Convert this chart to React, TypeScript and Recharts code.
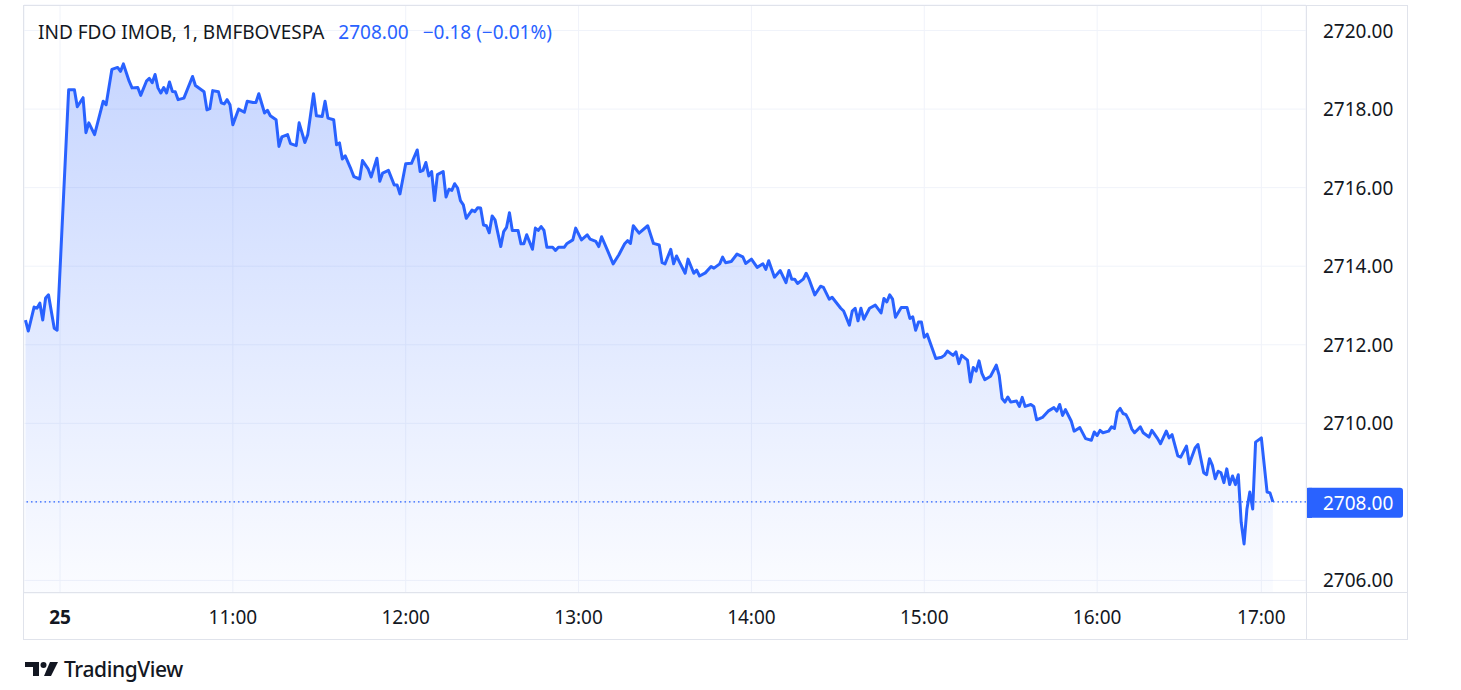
import React from "react";
import {
  Area,
  CartesianGrid,
  ComposedChart,
  ReferenceLine,
  XAxis,
  YAxis,
} from "recharts";

// 1-minute closes (one line per hour)
const times = [
  "09:48", "09:49", "09:51", "09:52", "09:53", "09:54", "09:55", "09:56", "09:58", "09:59",
  "10:03", "10:05", "10:06", "10:08", "10:09", "10:10", "10:12", "10:15", "10:16", "10:18", "10:20", "10:21", "10:22", "10:24", "10:25", "10:27", "10:28", "10:30", "10:31", "10:32", "10:33", "10:34", "10:35", "10:36", "10:37", "10:38", "10:39", "10:40", "10:41", "10:43", "10:46", "10:47", "10:50", "10:51", "10:52", "10:53", "10:55", "10:56", "10:57", "10:58", "10:59",
  "11:00", "11:02", "11:04", "11:05", "11:07", "11:08", "11:09", "11:11", "11:12", "11:13", "11:15", "11:16", "11:17", "11:19", "11:20", "11:22", "11:23", "11:25", "11:26", "11:28", "11:29", "11:31", "11:32", "11:33", "11:35", "11:36", "11:37", "11:38", "11:39", "11:41", "11:42", "11:44", "11:45", "11:47", "11:48", "11:50", "11:51", "11:52", "11:54", "11:56", "11:57", "11:58",
  "12:00", "12:02", "12:04", "12:05", "12:06", "12:07", "12:08", "12:09", "12:10", "12:11", "12:13", "12:14", "12:15", "12:16", "12:17", "12:18", "12:19", "12:20", "12:21", "12:23", "12:24", "12:25", "12:26", "12:27", "12:28", "12:29", "12:30", "12:31", "12:33", "12:34", "12:35", "12:36", "12:37", "12:39", "12:40", "12:41", "12:42", "12:44", "12:45", "12:46", "12:47", "12:48", "12:49", "12:51", "12:52", "12:53", "12:55", "12:56", "12:58", "12:59",
  "13:01", "13:03", "13:04", "13:06", "13:07", "13:08", "13:10", "13:12", "13:14", "13:16", "13:17", "13:18", "13:19", "13:21", "13:24", "13:26", "13:28", "13:29", "13:30", "13:32", "13:33", "13:34", "13:35", "13:37", "13:38", "13:40", "13:41", "13:42", "13:44", "13:46", "13:47", "13:49", "13:50", "13:51", "13:53", "13:55", "13:57", "13:58",
  "14:00", "14:02", "14:04", "14:05", "14:06", "14:08", "14:10", "14:12", "14:13", "14:14", "14:15", "14:16", "14:18", "14:19", "14:20", "14:22", "14:24", "14:25", "14:27", "14:28", "14:31", "14:32", "14:34", "14:35", "14:36", "14:37", "14:38", "14:39", "14:41", "14:43", "14:45", "14:46", "14:47", "14:48", "14:49", "14:50", "14:52", "14:54", "14:55", "14:56", "14:57", "14:58", "14:59",
  "15:00", "15:01", "15:04", "15:06", "15:07", "15:08", "15:10", "15:11", "15:12", "15:13", "15:15", "15:16", "15:17", "15:18", "15:19", "15:20", "15:21", "15:23", "15:25", "15:26", "15:27", "15:28", "15:29", "15:30", "15:32", "15:33", "15:34", "15:35", "15:37", "15:38", "15:39", "15:41", "15:43", "15:45", "15:46", "15:47", "15:48", "15:49", "15:51", "15:52", "15:54", "15:56", "15:58", "15:59",
  "16:00", "16:01", "16:02", "16:04", "16:05", "16:06", "16:07", "16:08", "16:09", "16:10", "16:11", "16:12", "16:13", "16:15", "16:16", "16:18", "16:19", "16:21", "16:22", "16:24", "16:25", "16:26", "16:28", "16:29", "16:31", "16:32", "16:34", "16:35", "16:37", "16:38", "16:39", "16:40", "16:41", "16:42", "16:43", "16:44", "16:45", "16:46", "16:47", "16:48", "16:49", "16:50", "16:51", "16:52", "16:53", "16:54", "16:55",
  "17:00", "17:02", "17:03", "17:04",
];

const prices = [
  2712.63, 2712.35, 2712.96, 2712.93, 2713.06, 2712.63, 2713.19, 2713.27, 2712.42, 2712.37,
  2718.49, 2718.49, 2718.06, 2718.29, 2717.4, 2717.65, 2717.35, 2718.2, 2718.11, 2719.01, 2719.06, 2718.96, 2719.15, 2718.71, 2718.54, 2718.55, 2718.35, 2718.71, 2718.78, 2718.67, 2718.88, 2718.54, 2718.41, 2718.55, 2718.41, 2718.69, 2718.45, 2718.44, 2718.24, 2718.28, 2718.83, 2718.6, 2718.44, 2717.98, 2718.01, 2718.47, 2718.44, 2718.16, 2718.13, 2718.24, 2718.11,
  2717.6, 2718.0, 2717.92, 2718.2, 2718.17, 2718.17, 2718.39, 2717.9, 2717.97, 2717.83, 2717.73, 2717.05, 2717.29, 2717.35, 2717.12, 2717.07, 2717.65, 2717.15, 2717.35, 2718.39, 2717.83, 2717.81, 2718.2, 2717.77, 2717.73, 2717.09, 2717.14, 2716.73, 2716.81, 2716.47, 2716.28, 2716.22, 2716.69, 2716.47, 2716.27, 2716.75, 2716.16, 2716.37, 2716.44, 2716.07, 2716.07, 2715.84,
  2716.61, 2716.62, 2716.96, 2716.41, 2716.44, 2716.64, 2716.3, 2716.41, 2715.67, 2716.33, 2716.41, 2715.76, 2715.96, 2715.93, 2716.1, 2715.99, 2715.67, 2715.56, 2715.22, 2715.43, 2715.39, 2715.49, 2715.48, 2715.05, 2715.03, 2714.85, 2715.28, 2715.18, 2714.5, 2714.88, 2714.99, 2715.36, 2714.91, 2714.91, 2714.57, 2714.57, 2714.8, 2714.43, 2714.97, 2714.91, 2715.01, 2714.91, 2714.48, 2714.48, 2714.4, 2714.48, 2714.48, 2714.58, 2714.67, 2714.97,
  2714.67, 2714.8, 2714.69, 2714.63, 2714.5, 2714.75, 2714.41, 2714.06, 2714.29, 2714.57, 2714.65, 2714.58, 2715.03, 2714.84, 2715.03, 2714.58, 2714.54, 2714.09, 2714.06, 2714.43, 2714.06, 2714.26, 2714.11, 2713.82, 2714.18, 2713.82, 2713.9, 2713.75, 2713.83, 2713.99, 2713.95, 2714.06, 2714.23, 2714.09, 2714.12, 2714.31, 2714.24, 2714.07,
  2714.18, 2713.97, 2714.06, 2713.92, 2714.14, 2713.72, 2713.89, 2713.58, 2713.89, 2713.67, 2713.67, 2713.56, 2713.67, 2713.82, 2713.67, 2713.27, 2713.49, 2713.46, 2713.16, 2713.21, 2712.93, 2712.86, 2712.5, 2712.86, 2712.93, 2712.61, 2712.93, 2712.65, 2712.93, 2713.01, 2712.81, 2713.18, 2713.09, 2713.27, 2713.16, 2712.7, 2712.95, 2712.95, 2712.67, 2712.71, 2712.37, 2712.58, 2712.58,
  2712.19, 2712.27, 2711.65, 2711.68, 2711.73, 2711.84, 2711.73, 2711.82, 2711.52, 2711.73, 2711.61, 2711.05, 2711.42, 2711.33, 2711.59, 2711.27, 2711.11, 2711.2, 2711.48, 2711.22, 2710.63, 2710.54, 2710.67, 2710.54, 2710.57, 2710.43, 2710.66, 2710.43, 2710.48, 2710.43, 2710.09, 2710.15, 2710.31, 2710.4, 2710.31, 2710.48, 2710.2, 2710.35, 2710.06, 2709.8, 2709.89, 2709.61, 2709.57, 2709.78,
  2709.69, 2709.82, 2709.76, 2709.8, 2709.91, 2709.87, 2710.29, 2710.38, 2710.25, 2710.22, 2710.08, 2709.86, 2709.76, 2709.91, 2709.76, 2709.65, 2709.82, 2709.61, 2709.48, 2709.8, 2709.63, 2709.71, 2709.17, 2709.14, 2709.42, 2708.97, 2709.37, 2709.46, 2708.74, 2708.69, 2709.1, 2708.93, 2708.59, 2708.78, 2708.74, 2708.49, 2708.84, 2708.44, 2708.66, 2708.44, 2708.69, 2707.48, 2706.93, 2707.82, 2708.25, 2707.82, 2709.52,
  2709.63, 2708.25, 2708.23, 2708.0,
];

const priceTicks = [2706, 2708, 2710, 2712, 2714, 2716, 2718, 2720];
const timeTicks = ["10:00", "11:00", "12:00", "13:00", "14:00", "15:00", "16:00", "17:00"];
const timeLabels = ["25", "11:00", "12:00", "13:00", "14:00", "15:00", "16:00", "17:00"];

const symbol = "IND FDO IMOB, 1, BMFBOVESPA";
const lastPrice = 2708.0;
const change = "\u22120.18 (\u22120.01%)";

const BLUE = "#2962ff";
const TEXT = "#131722";
const BORDER = "#e0e3eb";
const FONT = "'Noto Sans', 'Open Sans', sans-serif";
const FS = 19;

// bars are spaced evenly; the closing call minutes (16:56-16:59) have no bars
const toBar = (t: string) => {
  const [h, m] = t.split(":").map(Number);
  const min = h * 60 + m - 600;
  return min >= 420 ? min - 3 : min;
};

const data = times.map((t, i) => ({ bar: toBar(t), time: t, price: prices[i] }));
const tickBars = timeTicks.map(toBar);

const yMin = 2705.68;
const yMax = 2720.65;

const TimeTick = (props: any) => {
  const { x, y, payload } = props;
  const idx = tickBars.indexOf(payload.value);
  return (
    <text
      x={x}
      y={y + 24}
      textAnchor="middle"
      dominantBaseline="central"
      fill={TEXT}
      fontSize={FS}
      fontWeight={idx === 0 ? 700 : 400}
      fontFamily={FONT}
    >
      {timeLabels[idx]}
    </text>
  );
};

// the last-price tag covers the 2708.00 tick, so that one is not drawn
const PriceTick = (props: any) => {
  const { x, y, payload } = props;
  if (payload.value === lastPrice) return null;
  return (
    <text
      x={x}
      y={y}
      textAnchor="start"
      dominantBaseline="central"
      fill={TEXT}
      fontSize={FS}
      fontFamily={FONT}
    >
      {Number(payload.value).toFixed(2)}
    </text>
  );
};

const PriceTag = (props: any) => {
  const { viewBox } = props;
  if (!viewBox) return null;
  const x = viewBox.x + viewBox.width;
  const y = viewBox.y;
  return (
    <g>
      <rect x={x} y={y - 14} width={97} height={30} rx={3} fill={BLUE} />
      <rect x={x} y={y - 14} width={6} height={30} fill={BLUE} />
      <text
        x={x + 17}
        y={y + 1}
        fill="#fff"
        fontSize={FS}
        fontFamily={FONT}
        dominantBaseline="central"
      >
        {lastPrice.toFixed(2)}
      </text>
    </g>
  );
};

const App = () => {
  return (
    <div
      style={{
        position: "absolute",
        left: 0,
        top: 0,
        width: 1461,
        height: 690,
        background: "#fff",
        fontFamily: FONT,
      }}
    >
      <ComposedChart
        width={1461}
        height={690}
        data={data}
        margin={{ top: 5, right: 54, bottom: 51, left: 24 }}
      >
        <defs>
          <linearGradient id="areaFill" x1="0" y1="0" x2="0" y2="1">
            <stop offset="0%" stopColor={BLUE} stopOpacity={0.26} />
            <stop offset="100%" stopColor={BLUE} stopOpacity={0.02} />
          </linearGradient>
        </defs>
        <CartesianGrid stroke="#f0f3fa" strokeWidth={1} />
        <XAxis
          dataKey="bar"
          type="number"
          domain={[-12.5, 432.5]}
          ticks={tickBars}
          allowDataOverflow
          height={46}
          axisLine={false}
          tickLine={false}
          tickSize={0}
          tickMargin={0}
          tick={<TimeTick />}
          interval={0}
        />
        <YAxis
          orientation="right"
          type="number"
          domain={[yMin, yMax]}
          ticks={priceTicks}
          allowDataOverflow
          width={101}
          axisLine={false}
          tickLine={false}
          tickSize={0}
          tickMargin={17}
          tick={<PriceTick />}
          interval={0}
        />
        <Area
          type="linear"
          dataKey="price"
          baseValue={yMin}
          stroke={BLUE}
          strokeWidth={3}
          strokeLinejoin="round"
          fill="url(#areaFill)"
          fillOpacity={1}
          dot={false}
          activeDot={false}
          isAnimationActive={false}
        />
        <ReferenceLine
          y={lastPrice}
          stroke={BLUE}
          strokeWidth={1.3}
          strokeDasharray="1.5 3"
          label={<PriceTag />}
        />
      </ComposedChart>

      {/* pane frame */}
      <div
        style={{
          position: "absolute",
          left: 23,
          top: 5,
          width: 1383,
          height: 633,
          border: `1px solid ${BORDER}`,
          pointerEvents: "none",
        }}
      />
      <div style={{ position: "absolute", left: 24, top: 592, width: 1383, height: 1, background: BORDER }} />
      <div style={{ position: "absolute", left: 1306, top: 5, width: 1, height: 634, background: BORDER }} />

      {/* legend */}
      <div
        style={{
          position: "absolute",
          left: 38,
          top: 19,
          fontSize: FS,
          lineHeight: "26px",
          color: TEXT,
          whiteSpace: "nowrap",
        }}
      >
        <span>{symbol}</span>
        <span style={{ color: BLUE, marginLeft: 14 }}>{lastPrice.toFixed(2)}</span>
        <span style={{ color: BLUE, marginLeft: 14 }}>{change}</span>
      </div>

      {/* TradingView mark */}
      <div
        style={{
          position: "absolute",
          left: 25,
          top: 656,
          height: 26,
          display: "flex",
          alignItems: "center",
          color: TEXT,
        }}
      >
        <svg width={34} height={16} viewBox="0 0 34 16">
          <path d="M0 1 H14 V15 H8 V6 H0 Z" fill={TEXT} />
          <circle cx={18.5} cy={4} r={3} fill={TEXT} />
          <path d="M25 1 H33 L26 15 H19 Z" fill={TEXT} />
        </svg>
        <span style={{ marginLeft: 5, fontSize: 21, fontWeight: 500, letterSpacing: -0.4 }}>
          TradingView
        </span>
      </div>
    </div>
  );
};

export default App;
